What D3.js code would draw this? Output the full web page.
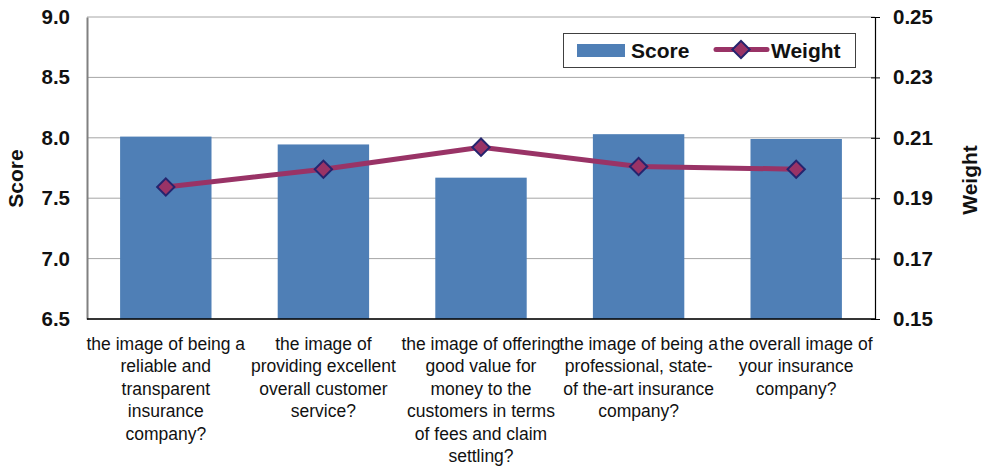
<!DOCTYPE html>
<html>
<head>
<meta charset="utf-8">
<script src="https://cdn.jsdelivr.net/npm/d3@7/dist/d3.min.js"></script>
<style>
  html, body { margin: 0; padding: 0; background: #fff; }
  svg { display: block; font-family: "Liberation Sans", Arial, sans-serif; }
</style>
</head>
<body>
<svg id="chart" width="987" height="469"></svg>
<script>
// Questions asked (x categories), one wrapped line per array item
const categories = [
  ["the image of being a", "reliable and", "transparent", "insurance", "company?"],
  ["the image of", "providing excellent", "overall customer", "service?"],
  ["the image of offering", "good value for", "money to the", "customers in terms", "of fees and claim", "settling?"],
  ["the image of being a", "professional, state-", "of the-art insurance", "company?"],
  ["the overall image of", "your insurance", "company?"]
];
const scoreValues = [8.01, 7.945, 7.67, 8.03, 7.99];
const weightValues = [0.1937, 0.1996, 0.2069, 0.2005, 0.1996];
const scoreTicks = [6.5, 7.0, 7.5, 8.0, 8.5, 9.0];
const weightTicks = [0.15, 0.17, 0.19, 0.21, 0.23, 0.25];

const svg = d3.select("#chart");
const m = { left: 87, right: 875, top: 17, bottom: 319 };

const x = d3.scaleBand()
  .domain(d3.range(categories.length))
  .range([m.left, m.right])
  .paddingInner(0.42)
  .paddingOuter(0.21);
const xCenter = i => x(i) + x.bandwidth() / 2;

const yScore = d3.scaleLinear().domain([6.5, 9.0]).range([m.bottom, m.top]);
const yWeight = d3.scaleLinear().domain([0.15, 0.25]).range([m.bottom, m.top]);

// Horizontal gridlines
svg.append("g")
  .selectAll("line")
  .data(scoreTicks)
  .join("line")
  .attr("x1", m.left).attr("x2", m.right)
  .attr("y1", d => yScore(d)).attr("y2", d => yScore(d))
  .attr("stroke", "#a6a6a6").attr("stroke-width", 1);

// Score bars
svg.append("g")
  .selectAll("rect")
  .data(scoreValues)
  .join("rect")
  .attr("x", (d, i) => x(i))
  .attr("width", x.bandwidth())
  .attr("y", d => yScore(d))
  .attr("height", d => yScore(6.5) - yScore(d))
  .attr("fill", "#4f7fb6");

// Left axis (Score)
const leftAxis = svg.append("g")
  .attr("transform", `translate(${m.left},0)`)
  .call(d3.axisLeft(yScore).tickValues(scoreTicks).tickFormat(d3.format(".1f")).tickSize(0).tickPadding(17));
leftAxis.select(".domain").attr("stroke", "#808080").attr("stroke-width", 2);
leftAxis.selectAll("text")
  .attr("font-size", 20.5).attr("font-weight", "bold").attr("fill", "#111")
  .attr("font-family", "Liberation Sans, Arial, sans-serif");

// Right axis (Weight)
const rightAxis = svg.append("g")
  .attr("transform", `translate(${m.right},0)`)
  .call(d3.axisRight(yWeight).tickValues(weightTicks).tickFormat(d3.format(".2f")).tickSizeInner(5).tickSizeOuter(0).tickPadding(13));
rightAxis.select(".domain").attr("stroke", "#000").attr("stroke-width", 1.2);
rightAxis.selectAll(".tick line").attr("x1", -4).attr("stroke", "#000");
rightAxis.selectAll("text")
  .attr("font-size", 20.5).attr("font-weight", "bold").attr("fill", "#111")
  .attr("font-family", "Liberation Sans, Arial, sans-serif");

// Bottom axis line
svg.append("line")
  .attr("x1", m.left).attr("x2", m.right)
  .attr("y1", m.bottom).attr("y2", m.bottom)
  .attr("stroke", "#000").attr("stroke-width", 1.5);

// Category labels
const labelG = svg.append("g");
categories.forEach((lines, i) => {
  const t = labelG.append("text")
    .attr("x", xCenter(i))
    .attr("y", 350)
    .attr("text-anchor", "middle")
    .attr("font-size", 17.5)
    .attr("fill", "#111");
  lines.forEach((ln, j) => {
    t.append("tspan").attr("x", xCenter(i)).attr("dy", j === 0 ? 0 : 22.4).text(ln);
  });
});

// Weight line
const line = d3.line()
  .x((d, i) => xCenter(i))
  .y(d => yWeight(d));
svg.append("path")
  .datum(weightValues)
  .attr("d", line)
  .attr("fill", "none")
  .attr("stroke", "#993366")
  .attr("stroke-width", 5)
  .attr("stroke-linejoin", "round");

svg.append("g")
  .selectAll("path")
  .data(weightValues)
  .join("path")
  .attr("transform", (d, i) => `translate(${xCenter(i)},${yWeight(d)}) rotate(45)`)
  .attr("d", d3.symbol().type(d3.symbolSquare).size(150))
  .attr("fill", "#993366")
  .attr("stroke", "#25246e")
  .attr("stroke-width", 2);

// Axis titles
svg.append("text")
  .attr("transform", `translate(23,178.5) rotate(-90)`)
  .attr("text-anchor", "middle")
  .attr("font-size", 21).attr("font-weight", "bold").attr("fill", "#111")
  .text("Score");
svg.append("text")
  .attr("transform", `translate(977,180) rotate(-90)`)
  .attr("text-anchor", "middle")
  .attr("font-size", 21).attr("font-weight", "bold").attr("fill", "#111")
  .text("Weight");

// Legend
const lg = svg.append("g");
lg.append("rect")
  .attr("x", 563.5).attr("y", 33.5).attr("width", 292).attr("height", 34)
  .attr("fill", "#fff").attr("stroke", "#404040").attr("stroke-width", 1);
lg.append("rect")
  .attr("x", 577).attr("y", 44).attr("width", 48).attr("height", 13)
  .attr("fill", "#4f7fb6");
lg.append("text")
  .attr("x", 631).attr("y", 58)
  .attr("font-size", 21).attr("font-weight", "bold").attr("fill", "#111")
  .text("Score");
lg.append("line")
  .attr("x1", 716).attr("x2", 767).attr("y1", 49.5).attr("y2", 49.5)
  .attr("stroke", "#993366").attr("stroke-width", 5).attr("stroke-linecap", "round");
lg.append("path")
  .attr("transform", "translate(741,49.5) rotate(45)")
  .attr("d", d3.symbol().type(d3.symbolSquare).size(150))
  .attr("fill", "#993366").attr("stroke", "#25246e").attr("stroke-width", 2);
lg.append("text")
  .attr("x", 771).attr("y", 58)
  .attr("font-size", 21).attr("font-weight", "bold").attr("fill", "#111")
  .text("Weight");
</script>
</body>
</html>
